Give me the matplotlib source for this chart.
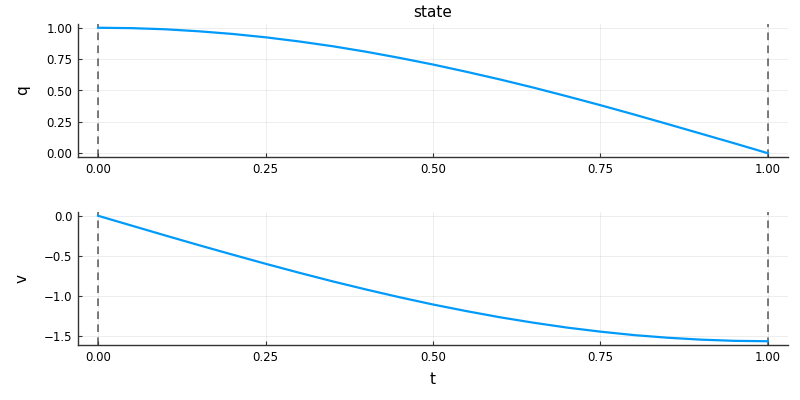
import matplotlib.pyplot as plt
import numpy as np

t = [0.0, 0.05, 0.1, 0.15, 0.2, 0.25, 0.3, 0.35, 0.4, 0.45, 0.5,
     0.55, 0.6, 0.65, 0.7, 0.75, 0.8, 0.85, 0.9, 0.95, 1.0]
q = [1.0, 0.997, 0.988, 0.972, 0.951, 0.924, 0.891, 0.853, 0.809, 0.760, 0.707,
     0.649, 0.588, 0.523, 0.454, 0.383, 0.309, 0.233, 0.156, 0.079, 0.0]
v = [0.0, -0.123, -0.246, -0.367, -0.485, -0.601, -0.713, -0.821, -0.923, -1.020, -1.111,
     -1.194, -1.271, -1.339, -1.400, -1.451, -1.494, -1.527, -1.551, -1.566, -1.571]
t_bounds = [0.0, 1.0]
x_ticks = [0.0, 0.25, 0.5, 0.75, 1.0]
q_ticks = [0.0, 0.25, 0.5, 0.75, 1.0]
v_ticks = [0.0, -0.5, -1.0, -1.5]

LINE = "#009AFA"

fig = plt.figure(figsize=(8, 4), dpi=100)
ax_q = fig.add_axes([0.0975, 0.6075, 0.8875, 0.3325])
ax_v = fig.add_axes([0.0975, 0.1375, 0.8875, 0.3325])


def style(ax, data, yticks, fmt):
    ax.plot(t, data, color=LINE, linewidth=1.6, zorder=3)
    for b in t_bounds:
        ax.axvline(b, color="#444444", linestyle=(0, (5, 3.5)), linewidth=1.1, alpha=0.9, zorder=2)
    lo, hi = min(data), max(data)
    pad = (hi - lo) * 0.03
    ax.set_ylim(lo - pad, hi + pad)
    ax.set_xlim(-0.03, 1.03)
    ax.set_xticks(x_ticks)
    ax.set_xticklabels([f"{x:.2f}" for x in x_ticks])
    ax.set_yticks(yticks)
    ax.set_yticklabels([fmt.format(y).replace("-", "\u2212") for y in yticks])
    ax.grid(True, color="black", alpha=0.08, linewidth=0.6)
    for side in ["top", "right"]:
        ax.spines[side].set_visible(False)
    for side in ["left", "bottom"]:
        ax.spines[side].set_color("#333333")
        ax.spines[side].set_linewidth(1.0)
    ax.tick_params(direction="in", length=3, width=0.8, labelsize=8.5, color="#333333", pad=4)


style(ax_q, q, q_ticks, "{:.2f}")
style(ax_v, v, v_ticks, "{:.1f}")

ax_q.set_title("state", fontsize=11, pad=5)
ax_q.set_ylabel("q", fontsize=11)
ax_v.set_ylabel("v", fontsize=11)
for ax in (ax_q, ax_v):
    ax.yaxis.set_label_coords(-0.068, 0.5)
ax_v.set_xlabel("t", fontsize=11, labelpad=6)

fig.savefig("out.png", dpi=100)
